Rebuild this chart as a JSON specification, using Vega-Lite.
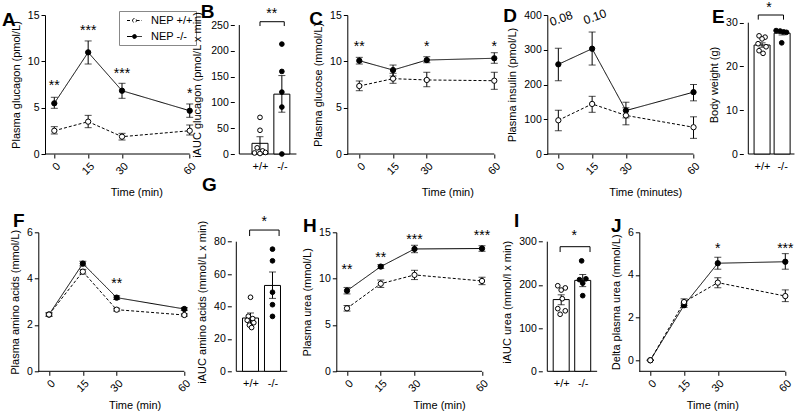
{
 "$schema": "https://vega.github.io/schema/vega-lite/v6.json",
 "autosize": {"type": "none"},
 "padding": {"left": 38.3, "top": 15, "right": 761.7, "bottom": 396},
 "config": {
  "font": "Liberation Sans",
  "view": {"stroke": null},
  "axis": {"grid": false, "domainColor": "black", "tickColor": "black", "labelColor": "black", "titleColor": "black", "labelFontSize": 11, "titleFontSize": 11, "titleFontWeight": "normal", "tickSize": 4, "labelPadding": 2, "titlePadding": 6, "labelFont": "Liberation Sans", "titleFont": "Liberation Sans"},
  "axisY": {"labelFontSize": 10.5},
  "title": {"fontSize": 19, "fontWeight": "bold", "anchor": "start", "frame": "group", "color": "black", "offset": 0, "font": "Liberation Sans"},
  "text": {"font": "Liberation Sans", "color": "black"}
 },
 "resolve": {"scale": {"fill": "independent", "strokeDash": "independent"}},
 "bounds": "flush",
 "spacing": 217.3,
 "datasets": {
  "gluc": [
   {"t": 0, "g": "-/-", "m": 5.47, "lo": 4.93, "hi": 6.12},
   {"t": 15, "g": "-/-", "m": 10.97, "lo": 9.71, "hi": 12.2},
   {"t": 30, "g": "-/-", "m": 6.83, "lo": 6.01, "hi": 7.63},
   {"t": 60, "g": "-/-", "m": 4.67, "lo": 3.96, "hi": 5.4},
   {"t": 0, "g": "+/+", "m": 2.51, "lo": 2.16, "hi": 2.95},
   {"t": 15, "g": "+/+", "m": 3.49, "lo": 2.84, "hi": 4.17},
   {"t": 30, "g": "+/+", "m": 1.87, "lo": 1.51, "hi": 2.23},
   {"t": 60, "g": "+/+", "m": 2.51, "lo": 2.05, "hi": 3.13}
  ],
  "glucS": [
   {"t": 0, "m": 7.8, "s": "**"}, {"t": 15, "m": 13.7, "s": "***"}, {"t": 30, "m": 9.06, "s": "***"}, {"t": 60, "m": 6.9, "s": "*"}
  ],
  "glc": [
   {"t": 0, "g": "-/-", "m": 10.07, "lo": 9.71, "hi": 10.43},
   {"t": 15, "g": "-/-", "m": 9.06, "lo": 8.42, "hi": 9.6},
   {"t": 30, "g": "-/-", "m": 10.14, "lo": 9.85, "hi": 10.5},
   {"t": 60, "g": "-/-", "m": 10.33, "lo": 9.79, "hi": 10.93},
   {"t": 0, "g": "+/+", "m": 7.34, "lo": 6.83, "hi": 7.88},
   {"t": 15, "g": "+/+", "m": 8.13, "lo": 7.63, "hi": 8.71},
   {"t": 30, "g": "+/+", "m": 7.99, "lo": 7.26, "hi": 8.82},
   {"t": 60, "g": "+/+", "m": 7.91, "lo": 6.98, "hi": 8.82}
  ],
  "glcS": [{"t": 0, "m": 12.0, "s": "**"}, {"t": 30, "m": 12.0, "s": "*"}, {"t": 60, "m": 12.0, "s": "*"}],
  "ins": [
   {"t": 0, "g": "-/-", "m": 258, "lo": 211, "hi": 304},
   {"t": 15, "g": "-/-", "m": 303, "lo": 256, "hi": 351},
   {"t": 30, "g": "-/-", "m": 125, "lo": 104, "hi": 149},
   {"t": 60, "g": "-/-", "m": 178, "lo": 153, "hi": 200},
   {"t": 0, "g": "+/+", "m": 97, "lo": 67, "hi": 126},
   {"t": 15, "g": "+/+", "m": 144, "lo": 120, "hi": 166},
   {"t": 30, "g": "+/+", "m": 111, "lo": 84, "hi": 133},
   {"t": 60, "g": "+/+", "m": 77, "lo": 45, "hi": 107}
  ],
  "insS": [{"t": 0, "m": 387, "s": "0.08"}, {"t": 15, "m": 392, "s": "0.10"}],
  "aa": [
   {"t": 0, "g": "-/-", "m": 2.45, "lo": 2.38, "hi": 2.52},
   {"t": 15, "g": "-/-", "m": 4.65, "lo": 4.55, "hi": 4.75},
   {"t": 30, "g": "-/-", "m": 3.18, "lo": 3.1, "hi": 3.26},
   {"t": 60, "g": "-/-", "m": 2.69, "lo": 2.63, "hi": 2.75},
   {"t": 0, "g": "+/+", "m": 2.45, "lo": 2.38, "hi": 2.52},
   {"t": 15, "g": "+/+", "m": 4.3, "lo": 4.2, "hi": 4.4},
   {"t": 30, "g": "+/+", "m": 2.66, "lo": 2.6, "hi": 2.72},
   {"t": 60, "g": "+/+", "m": 2.43, "lo": 2.38, "hi": 2.48}
  ],
  "aaS": [{"t": 30, "m": 3.95, "s": "**"}],
  "urea": [
   {"t": 0, "g": "-/-", "m": 8.7, "lo": 8.35, "hi": 9.05},
   {"t": 15, "g": "-/-", "m": 11.3, "lo": 11.1, "hi": 11.5},
   {"t": 30, "g": "-/-", "m": 13.2, "lo": 12.8, "hi": 13.6},
   {"t": 60, "g": "-/-", "m": 13.25, "lo": 12.95, "hi": 13.55},
   {"t": 0, "g": "+/+", "m": 6.8, "lo": 6.5, "hi": 7.1},
   {"t": 15, "g": "+/+", "m": 9.45, "lo": 9.05, "hi": 9.85},
   {"t": 30, "g": "+/+", "m": 10.4, "lo": 9.9, "hi": 10.9},
   {"t": 60, "g": "+/+", "m": 9.75, "lo": 9.35, "hi": 10.15}
  ],
  "ureaS": [{"t": 0, "m": 11.4, "s": "**"}, {"t": 15, "m": 12.7, "s": "**"}, {"t": 30, "m": 14.6, "s": "***"}, {"t": 60, "m": 15.0, "s": "***"}],
  "dU": [
   {"t": 0, "g": "-/-", "m": 0, "lo": 0, "hi": 0},
   {"t": 15, "g": "-/-", "m": 2.58, "lo": 2.48, "hi": 2.68},
   {"t": 30, "g": "-/-", "m": 4.55, "lo": 4.27, "hi": 4.83},
   {"t": 60, "g": "-/-", "m": 4.62, "lo": 4.27, "hi": 5.0},
   {"t": 0, "g": "+/+", "m": 0, "lo": 0, "hi": 0},
   {"t": 15, "g": "+/+", "m": 2.73, "lo": 2.58, "hi": 2.88},
   {"t": 30, "g": "+/+", "m": 3.64, "lo": 3.4, "hi": 3.87},
   {"t": 60, "g": "+/+", "m": 3.01, "lo": 2.75, "hi": 3.3}
  ],
  "dUS": [{"t": 30, "m": 5.4, "s": "*"}, {"t": 60, "m": 5.4, "s": "***"}],
  "bL": [
   {"x": 0.054, "x2": 2.667, "v": 0, "v2": 0}, {"x": 0.054, "x2": 0.054, "v": 0, "v2": 250},
   {"x": 1, "x2": 2.11, "v": 256.4, "v2": 256.4}, {"x": 1, "x2": 1, "v": 256.4, "v2": 248}, {"x": 2.11, "x2": 2.11, "v": 256.4, "v2": 248}
  ],
  "bB": [{"x": 1, "v": 20.7, "lo": 8.5, "hi": 33.5}, {"x": 2, "v": 116, "lo": 81, "hi": 152}],
  "bP": [
   {"g": "+/+", "x": 1.0, "v": 71}, {"g": "+/+", "x": 1.0, "v": 46}, {"g": "+/+", "x": 0.87, "v": 12}, {"g": "+/+", "x": 1.12, "v": 6}, {"g": "+/+", "x": 1.25, "v": 3}, {"g": "+/+", "x": 0.75, "v": 2}, {"g": "+/+", "x": 1.0, "v": 1},
   {"g": "-/-", "x": 2, "v": 213}, {"g": "-/-", "x": 2, "v": 160}, {"g": "-/-", "x": 2, "v": 120}, {"g": "-/-", "x": 2, "v": 91}, {"g": "-/-", "x": 2, "v": 0}
  ],
  "bS": [{"x": 1.54, "v": 279, "s": "**"}],
  "eL": [
   {"x": 0.313, "x2": 2.617, "v": 0, "v2": 0}, {"x": 0.313, "x2": 0.313, "v": 0, "v2": 30},
   {"x": 0.81, "x2": 2.07, "v": 31.76, "v2": 31.76}, {"x": 0.81, "x2": 0.81, "v": 31.76, "v2": 30.7}, {"x": 2.07, "x2": 2.07, "v": 31.76, "v2": 30.7}
  ],
  "eB": [{"x": 1, "v": 24.9, "lo": 24.4, "hi": 25.4}, {"x": 2, "v": 27.6, "lo": 27.2, "hi": 27.95}],
  "eP": [
   {"g": "+/+", "x": 0.85, "v": 27.0}, {"g": "+/+", "x": 1.15, "v": 26.7}, {"g": "+/+", "x": 1.0, "v": 26.3}, {"g": "+/+", "x": 0.8, "v": 25.2}, {"g": "+/+", "x": 1.2, "v": 24.5}, {"g": "+/+", "x": 0.85, "v": 23.6}, {"g": "+/+", "x": 1.05, "v": 23.0},
   {"g": "-/-", "x": 1.7, "v": 28.2}, {"g": "-/-", "x": 1.9, "v": 28.1}, {"g": "-/-", "x": 2.08, "v": 27.9}, {"g": "-/-", "x": 2.22, "v": 27.8}, {"g": "-/-", "x": 1.98, "v": 25.4}
  ],
  "eS": [{"x": 1.35, "v": 34.3, "s": "*"}],
  "gL": [
   {"x": 0.354, "x2": 2.67, "v": 0, "v2": 0}, {"x": 0.354, "x2": 0.354, "v": 0, "v2": 80},
   {"x": 0.96, "x2": 2.3, "v": 87.2, "v2": 87.2}, {"x": 0.96, "x2": 0.96, "v": 87.2, "v2": 83.5}, {"x": 2.3, "x2": 2.3, "v": 87.2, "v2": 83.5}
  ],
  "gB": [{"x": 1, "v": 32.9, "lo": 29.7, "hi": 36}, {"x": 2, "v": 53, "lo": 45, "hi": 61.3}],
  "gP": [
   {"g": "+/+", "x": 1.0, "v": 45.7}, {"g": "+/+", "x": 0.9, "v": 34}, {"g": "+/+", "x": 1.1, "v": 32.5}, {"g": "+/+", "x": 0.85, "v": 31.5}, {"g": "+/+", "x": 1.15, "v": 30}, {"g": "+/+", "x": 0.95, "v": 28.5}, {"g": "+/+", "x": 1.05, "v": 27},
   {"g": "-/-", "x": 2, "v": 75.4}, {"g": "-/-", "x": 2, "v": 68.2}, {"g": "-/-", "x": 2, "v": 48.8}, {"g": "-/-", "x": 2, "v": 41.1}, {"g": "-/-", "x": 2, "v": 33.9}
  ],
  "gS": [{"x": 1.62, "v": 94.7, "s": "*"}],
  "iL": [
   {"x": 0.354, "x2": 2.67, "v": 0, "v2": 0}, {"x": 0.354, "x2": 0.354, "v": 0, "v2": 300},
   {"x": 0.95, "x2": 2.34, "v": 288.4, "v2": 288.4}, {"x": 0.95, "x2": 0.95, "v": 288.4, "v2": 276}, {"x": 2.34, "x2": 2.34, "v": 288.4, "v2": 276}
  ],
  "iB": [{"x": 1, "v": 166, "lo": 154, "hi": 177}, {"x": 2, "v": 210.4, "lo": 196, "hi": 224}],
  "iP": [
   {"g": "+/+", "x": 0.84, "v": 198}, {"g": "+/+", "x": 1.19, "v": 193}, {"g": "+/+", "x": 1.0, "v": 188}, {"g": "+/+", "x": 1.05, "v": 168}, {"g": "+/+", "x": 0.84, "v": 145}, {"g": "+/+", "x": 1.19, "v": 140}, {"g": "+/+", "x": 0.95, "v": 132},
   {"g": "-/-", "x": 1.95, "v": 255.6}, {"g": "-/-", "x": 2.15, "v": 214}, {"g": "-/-", "x": 1.85, "v": 212}, {"g": "-/-", "x": 2.0, "v": 204}, {"g": "-/-", "x": 2.0, "v": 175}
  ],
  "iS": [{"x": 1.6, "v": 322, "s": "*"}]
 },
 "vconcat": [
  {
   "bounds": "flush",
   "spacing": 0,
   "resolve": {"scale": {"fill": "independent", "strokeDash": "independent"}},
   "hconcat": [
    {
     "width": 196, "height": 139,
     "title": {"text": "A", "dx": -36.3, "dy": 24},
     "encoding": {
      "x": {"field": "t", "type": "quantitative", "scale": {"domain": [-7.09, 79.75], "nice": false, "zero": false}, "axis": {"values": [0, 15, 30, 60], "domain": false, "labelAngle": -45, "title": "Time (min)", "titlePadding": 10}},
      "y": {"field": "m", "type": "quantitative", "scale": {"domain": [0, 15], "nice": false, "zero": false}, "axis": {"values": [0, 5, 10, 15], "title": "Plasma glucagon (pmol/L)", "offset": -6.7}}
     },
     "layer": [
      {"data": {"values": [{"t": -4.1, "t2": 60, "m": 0}]}, "mark": {"type": "rule", "color": "black"}, "encoding": {"x2": {"field": "t2"}}},
      {"data": {"name": "gluc"}, "mark": {"type": "line", "color": "black", "strokeWidth": 1}, "encoding": {"strokeDash": {"field": "g", "type": "nominal", "scale": {"domain": ["+/+", "-/-"], "range": [[3, 2], [1, 0]]}, "legend": {"orient": "none", "legendX": 80.7, "legendY": -4, "title": null, "symbolType": "M-1.25,0H-0.35M0.35,0H1.25M-0.33,0A0.33,0.33,0,1,1,0.33,0A0.33,0.33,0,1,1,-0.33,0Z", "symbolSize": 144, "symbolOffset": 6, "labelExpr": "'NEP ' + datum.label", "strokeColor": "#888888", "padding": 3, "rowPadding": 4, "labelFontSize": 11, "symbolStrokeColor": "black", "symbolStrokeWidth": 1, "labelColor": "black", "labelOffset": 10}}}},
      {"data": {"name": "gluc"}, "mark": {"type": "errorbar", "color": "black", "thickness": 1, "ticks": {"size": 7, "thickness": 1}}, "encoding": {"y": {"field": "lo", "type": "quantitative"}, "y2": {"field": "hi"}}},
      {"data": {"name": "gluc"}, "mark": {"type": "point", "filled": true, "size": 28, "stroke": "black", "strokeWidth": 1, "opacity": 1}, "encoding": {"fill": {"field": "g", "type": "nominal", "scale": {"domain": ["+/+", "-/-"], "range": ["white", "black"]}, "legend": {"orient": "none", "legendX": 80.7, "legendY": -4, "title": null, "symbolType": "M-1.25,0H-0.35M0.35,0H1.25M-0.33,0A0.33,0.33,0,1,1,0.33,0A0.33,0.33,0,1,1,-0.33,0Z", "symbolSize": 144, "symbolOffset": 6, "labelExpr": "'NEP ' + datum.label", "strokeColor": "#888888", "padding": 3, "rowPadding": 4, "labelFontSize": 11, "symbolStrokeColor": "black", "symbolStrokeWidth": 1, "labelColor": "black", "labelOffset": 10}}}},
      {"data": {"name": "glucS"}, "mark": {"type": "text", "fontSize": 14, "baseline": "alphabetic", "dy": 8}, "encoding": {"text": {"field": "s"}}}
     ]
    },
    {
     "width": 112.7, "height": 139,
     "title": {"text": "B", "dx": -33.6, "dy": 19},
     "encoding": {
      "x": {"field": "x", "type": "quantitative", "scale": {"domain": [0.054, 4.75], "nice": false, "zero": false}, "axis": {"values": [1, 2], "labelExpr": "datum.value == 1 ? '+/+' : '-/-'", "domain": false, "ticks": false, "tickSize": 0, "labelAngle": 0, "labelPadding": 6, "title": null}},
      "y": {"field": "v", "type": "quantitative", "scale": {"domain": [0, 269.4], "nice": false, "zero": false}, "axis": {"values": [0, 50, 100, 150, 200, 250], "domain": false, "title": "iAUC glucagon (pmol/L x min)", "titleX": -31.8}}
     },
     "layer": [
      {"data": {"name": "bL"}, "mark": {"type": "rule", "color": "black"}, "encoding": {"x2": {"field": "x2"}, "y2": {"field": "v2"}}},
      {"data": {"name": "bB"}, "mark": {"type": "bar", "size": 16, "fill": "white", "stroke": "black", "strokeWidth": 1, "orient": "vertical"}},
      {"data": {"name": "bB"}, "mark": {"type": "errorbar", "color": "black", "thickness": 1, "ticks": {"size": 7, "thickness": 1}}, "encoding": {"y": {"field": "lo", "type": "quantitative"}, "y2": {"field": "hi"}}},
      {"data": {"name": "bP"}, "mark": {"type": "point", "filled": true, "size": 22, "stroke": "black", "strokeWidth": 1, "opacity": 1}, "encoding": {"fill": {"field": "g", "type": "nominal", "scale": {"domain": ["+/+", "-/-"], "range": ["white", "black"]}, "legend": null}}},
      {"data": {"name": "bS"}, "mark": {"type": "text", "fontSize": 14, "baseline": "alphabetic", "dy": 8}, "encoding": {"text": {"field": "s"}}}
     ]
    },
    {
     "width": 200, "height": 139,
     "title": {"text": "C", "dx": -38, "dy": 23},
     "encoding": {
      "x": {"field": "t", "type": "quantitative", "scale": {"domain": [-5.33, 83.56], "nice": false, "zero": false}, "axis": {"values": [0, 15, 30, 60], "domain": false, "labelAngle": -45, "title": "Time (min)", "titlePadding": 10}},
      "y": {"field": "m", "type": "quantitative", "scale": {"domain": [0, 15], "nice": false, "zero": false}, "axis": {"values": [0, 5, 10, 15], "title": "Plasma glucose (mmol/L)"}}
     },
     "layer": [
      {"data": {"values": [{"t": -5.33, "t2": 60, "m": 0}]}, "mark": {"type": "rule", "color": "black"}, "encoding": {"x2": {"field": "t2"}}},
      {"data": {"name": "glc"}, "mark": {"type": "line", "color": "black", "strokeWidth": 1}, "encoding": {"strokeDash": {"field": "g", "type": "nominal", "scale": {"domain": ["+/+", "-/-"], "range": [[3, 2], [1, 0]]}, "legend": null}}},
      {"data": {"name": "glc"}, "mark": {"type": "errorbar", "color": "black", "thickness": 1, "ticks": {"size": 7, "thickness": 1}}, "encoding": {"y": {"field": "lo", "type": "quantitative"}, "y2": {"field": "hi"}}},
      {"data": {"name": "glc"}, "mark": {"type": "point", "filled": true, "size": 28, "stroke": "black", "strokeWidth": 1, "opacity": 1}, "encoding": {"fill": {"field": "g", "type": "nominal", "scale": {"domain": ["+/+", "-/-"], "range": ["white", "black"]}, "legend": null}}},
      {"data": {"name": "glcS"}, "mark": {"type": "text", "fontSize": 14, "baseline": "alphabetic", "dy": 8}, "encoding": {"text": {"field": "s"}}}
     ]
    },
    {
     "width": 196, "height": 139,
     "title": {"text": "D", "dx": -44, "dy": 23},
     "encoding": {
      "x": {"field": "t", "type": "quantitative", "scale": {"domain": [-4.9, 82.09], "nice": false, "zero": false}, "axis": {"values": [0, 15, 30, 60], "domain": false, "labelAngle": -45, "title": "Time (minutes)", "titlePadding": 10}},
      "y": {"field": "m", "type": "quantitative", "scale": {"domain": [0, 400], "nice": false, "zero": false}, "axis": {"values": [0, 100, 200, 300, 400], "title": "Plasma insulin (pmol/L)"}}
     },
     "layer": [
      {"data": {"values": [{"t": -4.9, "t2": 60, "m": 0}]}, "mark": {"type": "rule", "color": "black"}, "encoding": {"x2": {"field": "t2"}}},
      {"data": {"name": "ins"}, "mark": {"type": "line", "color": "black", "strokeWidth": 1}, "encoding": {"strokeDash": {"field": "g", "type": "nominal", "scale": {"domain": ["+/+", "-/-"], "range": [[3, 2], [1, 0]]}, "legend": null}}},
      {"data": {"name": "ins"}, "mark": {"type": "errorbar", "color": "black", "thickness": 1, "ticks": {"size": 7, "thickness": 1}}, "encoding": {"y": {"field": "lo", "type": "quantitative"}, "y2": {"field": "hi"}}},
      {"data": {"name": "ins"}, "mark": {"type": "point", "filled": true, "size": 28, "stroke": "black", "strokeWidth": 1, "opacity": 1}, "encoding": {"fill": {"field": "g", "type": "nominal", "scale": {"domain": ["+/+", "-/-"], "range": ["white", "black"]}, "legend": null}}},
      {"data": {"name": "insS"}, "mark": {"type": "text", "fontSize": 12, "baseline": "middle", "angle": 340, "dx": 3}, "encoding": {"text": {"field": "s"}}}
     ]
    },
    {
     "width": 57, "height": 139,
     "title": {"text": "E", "dx": -31.3, "dy": 30},
     "encoding": {
      "x": {"field": "x", "type": "quantitative", "scale": {"domain": [0.313, 2.658], "nice": false, "zero": false}, "axis": {"values": [1, 2], "labelExpr": "datum.value == 1 ? '+/+' : '-/-'", "domain": false, "ticks": false, "tickSize": 0, "labelAngle": 0, "labelPadding": 6, "title": null}},
      "y": {"field": "v", "type": "quantitative", "scale": {"domain": [0, 31.76], "nice": false, "zero": false}, "axis": {"values": [0, 10, 20, 30], "domain": false, "title": "Body weight (g)"}}
     },
     "layer": [
      {"data": {"name": "eL"}, "mark": {"type": "rule", "color": "black"}, "encoding": {"x2": {"field": "x2"}, "y2": {"field": "v2"}}},
      {"data": {"name": "eB"}, "mark": {"type": "bar", "size": 16, "fill": "white", "stroke": "black", "strokeWidth": 1, "orient": "vertical"}},
      {"data": {"name": "eB"}, "mark": {"type": "errorbar", "color": "black", "thickness": 1, "ticks": {"size": 7, "thickness": 1}}, "encoding": {"y": {"field": "lo", "type": "quantitative"}, "y2": {"field": "hi"}}},
      {"data": {"name": "eP"}, "mark": {"type": "point", "filled": true, "size": 22, "stroke": "black", "strokeWidth": 1, "opacity": 1}, "encoding": {"fill": {"field": "g", "type": "nominal", "scale": {"domain": ["+/+", "-/-"], "range": ["white", "black"]}, "legend": null}}},
      {"data": {"name": "eS"}, "mark": {"type": "text", "fontSize": 14, "baseline": "alphabetic", "dy": 8}, "encoding": {"text": {"field": "s"}}}
     ]
    }
   ]
  },
  {
   "bounds": "flush",
   "spacing": 0,
   "resolve": {"scale": {"fill": "independent", "strokeDash": "independent"}},
   "hconcat": [
    {
     "width": 192.7, "height": 139,
     "title": {"text": "F", "dx": -25.3, "dy": 8},
     "encoding": {
      "x": {"field": "t", "type": "quantitative", "scale": {"domain": [-4.75, 80.71], "nice": false, "zero": false}, "axis": {"values": [0, 15, 30, 60], "domain": false, "labelAngle": -45, "title": "Time (min)"}},
      "y": {"field": "m", "type": "quantitative", "scale": {"domain": [0, 6], "nice": false, "zero": false}, "axis": {"values": [0, 2, 4, 6], "title": "Plasma amino acids (mmol/L)"}}
     },
     "layer": [
      {"data": {"values": [{"t": -4.75, "t2": 60, "m": 0}]}, "mark": {"type": "rule", "color": "black"}, "encoding": {"x2": {"field": "t2"}}},
      {"data": {"name": "aa"}, "mark": {"type": "line", "color": "black", "strokeWidth": 1}, "encoding": {"strokeDash": {"field": "g", "type": "nominal", "scale": {"domain": ["+/+", "-/-"], "range": [[3, 2], [1, 0]]}, "legend": null}}},
      {"data": {"name": "aa"}, "mark": {"type": "errorbar", "color": "black", "thickness": 1, "ticks": {"size": 7, "thickness": 1}}, "encoding": {"y": {"field": "lo", "type": "quantitative"}, "y2": {"field": "hi"}}},
      {"data": {"name": "aa"}, "mark": {"type": "point", "filled": true, "size": 28, "stroke": "black", "strokeWidth": 1, "opacity": 1}, "encoding": {"fill": {"field": "g", "type": "nominal", "scale": {"domain": ["+/+", "-/-"], "range": ["white", "black"]}, "legend": null}}},
      {"data": {"name": "aaS"}, "mark": {"type": "text", "fontSize": 14, "baseline": "alphabetic", "dy": 8}, "encoding": {"text": {"field": "s"}}}
     ]
    },
    {
     "width": 105, "height": 139,
     "title": {"text": "G", "dx": -29.3, "dy": -16},
     "encoding": {
      "x": {"field": "x", "type": "quantitative", "scale": {"domain": [0.354, 4.675], "nice": false, "zero": false}, "axis": {"values": [1, 2], "labelExpr": "datum.value == 1 ? '+/+' : '-/-'", "domain": false, "ticks": false, "tickSize": 0, "labelAngle": 0, "labelPadding": 6, "title": null}},
      "y": {"field": "v", "type": "quantitative", "scale": {"domain": [0, 85.8], "nice": false, "zero": false}, "axis": {"values": [0, 20, 40, 60, 80], "domain": false, "title": "iAUC amino acids (mmol/L x min)"}}
     },
     "layer": [
      {"data": {"name": "gL"}, "mark": {"type": "rule", "color": "black"}, "encoding": {"x2": {"field": "x2"}, "y2": {"field": "v2"}}},
      {"data": {"name": "gB"}, "mark": {"type": "bar", "size": 16, "fill": "white", "stroke": "black", "strokeWidth": 1, "orient": "vertical"}},
      {"data": {"name": "gB"}, "mark": {"type": "errorbar", "color": "black", "thickness": 1, "ticks": {"size": 7, "thickness": 1}}, "encoding": {"y": {"field": "lo", "type": "quantitative"}, "y2": {"field": "hi"}}},
      {"data": {"name": "gP"}, "mark": {"type": "point", "filled": true, "size": 22, "stroke": "black", "strokeWidth": 1, "opacity": 1}, "encoding": {"fill": {"field": "g", "type": "nominal", "scale": {"domain": ["+/+", "-/-"], "range": ["white", "black"]}, "legend": null}}},
      {"data": {"name": "gS"}, "mark": {"type": "text", "fontSize": 14, "baseline": "alphabetic", "dy": 8}, "encoding": {"text": {"field": "s"}}}
     ]
    },
    {
     "width": 205.7, "height": 139,
     "title": {"text": "H", "dx": -33.3, "dy": 13},
     "encoding": {
      "x": {"field": "t", "type": "quantitative", "scale": {"domain": [-4.76, 86.67], "nice": false, "zero": false}, "axis": {"values": [0, 15, 30, 60], "domain": false, "labelAngle": -45, "title": "Time (min)"}},
      "y": {"field": "m", "type": "quantitative", "scale": {"domain": [0, 15], "nice": false, "zero": false}, "axis": {"values": [0, 5, 10, 15], "title": "Plasma urea (mmol/L)"}}
     },
     "layer": [
      {"data": {"values": [{"t": -4.76, "t2": 60, "m": 0}]}, "mark": {"type": "rule", "color": "black"}, "encoding": {"x2": {"field": "t2"}}},
      {"data": {"name": "urea"}, "mark": {"type": "line", "color": "black", "strokeWidth": 1}, "encoding": {"strokeDash": {"field": "g", "type": "nominal", "scale": {"domain": ["+/+", "-/-"], "range": [[3, 2], [1, 0]]}, "legend": null}}},
      {"data": {"name": "urea"}, "mark": {"type": "errorbar", "color": "black", "thickness": 1, "ticks": {"size": 7, "thickness": 1}}, "encoding": {"y": {"field": "lo", "type": "quantitative"}, "y2": {"field": "hi"}}},
      {"data": {"name": "urea"}, "mark": {"type": "point", "filled": true, "size": 28, "stroke": "black", "strokeWidth": 1, "opacity": 1}, "encoding": {"fill": {"field": "g", "type": "nominal", "scale": {"domain": ["+/+", "-/-"], "range": ["white", "black"]}, "legend": null}}},
      {"data": {"name": "ureaS"}, "mark": {"type": "text", "fontSize": 14, "baseline": "alphabetic", "dy": 8}, "encoding": {"text": {"field": "s"}}}
     ]
    },
    {
     "width": 96.6, "height": 139,
     "title": {"text": "I", "dx": -28.4, "dy": 6},
     "encoding": {
      "x": {"field": "x", "type": "quantitative", "scale": {"domain": [0.354, 4.379], "nice": false, "zero": false}, "axis": {"values": [1, 2], "labelExpr": "datum.value == 1 ? '+/+' : '-/-'", "domain": false, "ticks": false, "tickSize": 0, "labelAngle": 0, "labelPadding": 6, "title": null}},
      "y": {"field": "v", "type": "quantitative", "scale": {"domain": [0, 321.7], "nice": false, "zero": false}, "axis": {"values": [0, 100, 200, 300], "domain": false, "title": "iAUC urea (mmol/l x min)"}}
     },
     "layer": [
      {"data": {"name": "iL"}, "mark": {"type": "rule", "color": "black"}, "encoding": {"x2": {"field": "x2"}, "y2": {"field": "v2"}}},
      {"data": {"name": "iB"}, "mark": {"type": "bar", "size": 16, "fill": "white", "stroke": "black", "strokeWidth": 1, "orient": "vertical"}},
      {"data": {"name": "iB"}, "mark": {"type": "errorbar", "color": "black", "thickness": 1, "ticks": {"size": 7, "thickness": 1}}, "encoding": {"y": {"field": "lo", "type": "quantitative"}, "y2": {"field": "hi"}}},
      {"data": {"name": "iP"}, "mark": {"type": "point", "filled": true, "size": 22, "stroke": "black", "strokeWidth": 1, "opacity": 1}, "encoding": {"fill": {"field": "g", "type": "nominal", "scale": {"domain": ["+/+", "-/-"], "range": ["white", "black"]}, "legend": null}}},
      {"data": {"name": "iS"}, "mark": {"type": "text", "fontSize": 14, "baseline": "alphabetic", "dy": 8}, "encoding": {"text": {"field": "s"}}}
     ]
    },
    {
     "width": 146, "height": 139,
     "title": {"text": "J", "dx": -28.3, "dy": 13},
     "encoding": {
      "x": {"field": "t", "type": "quantitative", "scale": {"domain": [-4.89, 60], "nice": false, "zero": false}, "axis": {"values": [0, 15, 30, 60], "domain": false, "labelAngle": -45, "title": "Time (min)"}},
      "y": {"field": "m", "type": "quantitative", "scale": {"domain": [-0.517, 6], "nice": false, "zero": false}, "axis": {"values": [0, 2, 4, 6], "title": "Delta plasma urea (mmol/L)"}}
     },
     "layer": [
      {"data": {"values": [{"t": -4.89, "t2": 60, "m": -0.517}]}, "mark": {"type": "rule", "color": "black"}, "encoding": {"x2": {"field": "t2"}}},
      {"data": {"name": "dU"}, "mark": {"type": "line", "color": "black", "strokeWidth": 1}, "encoding": {"strokeDash": {"field": "g", "type": "nominal", "scale": {"domain": ["+/+", "-/-"], "range": [[3, 2], [1, 0]]}, "legend": null}}},
      {"data": {"name": "dU"}, "mark": {"type": "errorbar", "color": "black", "thickness": 1, "ticks": {"size": 7, "thickness": 1}}, "encoding": {"y": {"field": "lo", "type": "quantitative"}, "y2": {"field": "hi"}}},
      {"data": {"name": "dU"}, "mark": {"type": "point", "filled": true, "size": 28, "stroke": "black", "strokeWidth": 1, "opacity": 1}, "encoding": {"fill": {"field": "g", "type": "nominal", "scale": {"domain": ["+/+", "-/-"], "range": ["white", "black"]}, "legend": null}}},
      {"data": {"name": "dUS"}, "mark": {"type": "text", "fontSize": 14, "baseline": "alphabetic", "dy": 8}, "encoding": {"text": {"field": "s"}}}
     ]
    }
   ]
  }
 ]
}
